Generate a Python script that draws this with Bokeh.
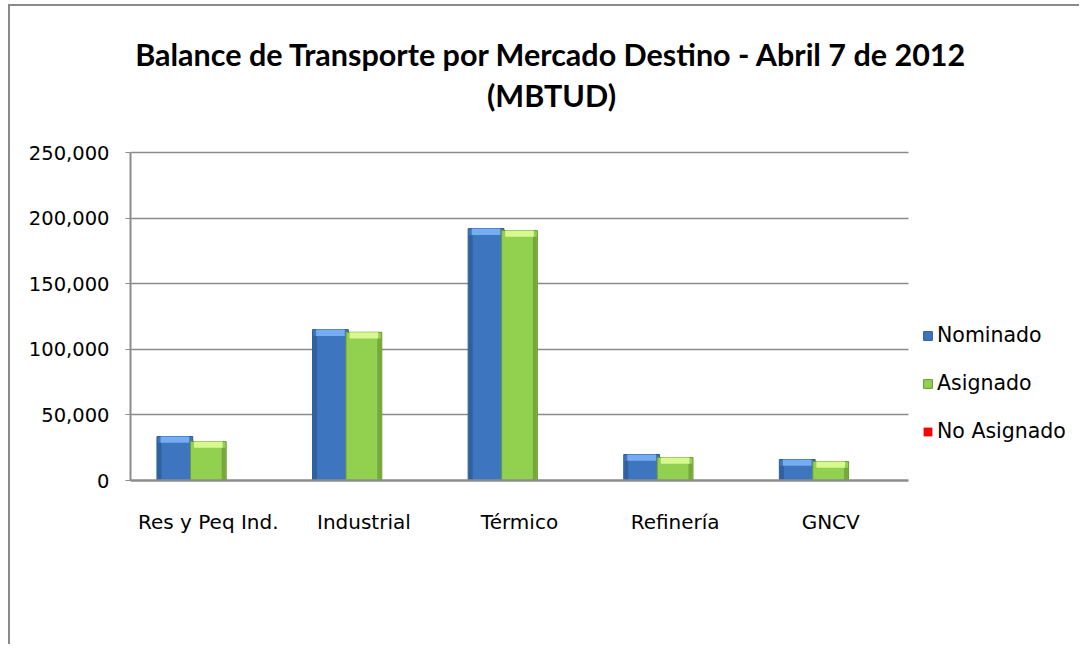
from bokeh.plotting import figure
from bokeh.models import (Range1d, NumeralTickFormatter, FixedTicker,
                          Legend, LegendItem, Label, ColumnDataSource)
from bokeh.transform import dodge
from bokeh.embed import file_html
from bokeh.resources import INLINE

categories = ["Res y Peq Ind.", "Industrial", "Térmico", "Refinería", "GNCV"]
nominado = [33500, 115000, 192000, 19800, 16000]
asignado = [29700, 113000, 190500, 17500, 14500]
no_asignado = [0, 0, 0, 0, 0]
y_ticks = [0, 50000, 100000, 150000, 200000, 250000]

series_names = ["Nominado", "Asignado", "No Asignado"]
title_line1 = "Balance de Transporte por Mercado Destino - Abril 7 de 2012"
title_line2 = "(MBTUD)"
main_colors = ["#3d76be", "#92d050", "#ff0000"]
edge_colors = ["#2d5a93", "#6c9a33", "#c00000"]
top_colors = ["#74adf2", "#d8f890", "#ff8080"]
side_colors = ["#30609e", "#77a83c", "#c00000"]

n = len(categories)
hl = 4800  # height of the bevel highlight band in data units

src = ColumnDataSource(dict(
    x=[i + 0.5 for i in range(n)],
    nom=nominado, asg=asignado, noa=no_asignado,
    nom_b=[max(v - hl, 0) for v in nominado],
    asg_b=[max(v - hl, 0) for v in asignado],
))

# canvas / frame geometry (pixels)
W, H = 1071, 640
left_b, bottom_b = 120, 166
plot_w, plot_h = 778, 328          # area that holds the categories / 0..250,000
frame_w, frame_h = W - left_b, H - bottom_b
x_end = n * frame_w / plot_w
y_end = y_ticks[-1] * frame_h / plot_h

p = figure(x_range=Range1d(0, x_end), y_range=Range1d(0, y_end),
           width=W, height=H, output_backend="svg", toolbar_location=None,
           min_border_left=left_b, min_border_right=0,
           min_border_top=0, min_border_bottom=bottom_b)
p.styles = {"border-left": "2px solid #8a8a8a", "border-top": "2px solid #8a8a8a",
            "margin-left": "8px", "margin-top": "4px"}
p.outline_line_color = None
p.background_fill_color = "white"
p.border_fill_color = "white"

off = 0.215
bw = 0.23
sw = 0.025  # width of the shaded side strip
r_nom = p.vbar(x=dodge("x", -off), top="nom", width=bw, source=src,
               fill_color=main_colors[0], line_color=edge_colors[0], line_width=1)
p.vbar(x=dodge("x", -off - bw / 2 + sw / 2 + 0.004), top="nom_b", width=sw,
       source=src, fill_color=side_colors[0], line_color=None)
p.vbar(x=dodge("x", -off), top="nom", bottom="nom_b", width=bw * 0.8,
       source=src, fill_color=top_colors[0], line_color=None)
r_asg = p.vbar(x=dodge("x", 0), top="asg", width=bw, source=src,
               fill_color=main_colors[1], line_color=edge_colors[1], line_width=1)
p.vbar(x=dodge("x", bw / 2 - sw / 2 - 0.004), top="asg_b", width=sw,
       source=src, fill_color=side_colors[1], line_color=None)
p.vbar(x=dodge("x", 0), top="asg", bottom="asg_b", width=bw * 0.8,
       source=src, fill_color=top_colors[1], line_color=None)
r_noa = p.vbar(x=dodge("x", off), top="noa", width=bw, source=src,
               fill_color=main_colors[2], line_color=None)

# grid
p.xgrid.grid_line_color = None
p.ygrid.grid_line_color = "#8c8c8c"
p.ygrid.grid_line_width = 1.5
p.ygrid.cross_bounds = (0, n)
p.yaxis.ticker = FixedTicker(ticks=y_ticks)
p.ygrid.ticker = FixedTicker(ticks=y_ticks)

# y axis
p.yaxis.bounds = (0, y_ticks[-1])
p.yaxis.formatter = NumeralTickFormatter(format="0,0")
p.yaxis.axis_line_color = "#8c8c8c"
p.yaxis.axis_line_width = 2
p.yaxis.major_tick_line_color = "#8c8c8c"
p.yaxis.major_tick_out = 5
p.yaxis.major_tick_in = 0
p.yaxis.minor_tick_line_color = None
p.yaxis.major_label_standoff = 16
p.yaxis.major_label_text_font = "DejaVu Sans"
p.yaxis.major_label_text_font_size = "19.5px"
p.yaxis.major_label_text_color = "#000000"

# x axis (categories)
p.xaxis.bounds = (0, n)
p.xaxis.ticker = FixedTicker(ticks=[i + 0.5 for i in range(n)])
p.xaxis.major_label_overrides = {i + 0.5: c for i, c in enumerate(categories)}
p.xaxis.axis_line_color = "#8c8c8c"
p.xaxis.axis_line_width = 2.5
p.xaxis.major_tick_line_color = None
p.xaxis.minor_tick_line_color = None
p.xaxis.major_tick_out = 0
p.xaxis.major_label_standoff = 29
p.xaxis.major_label_text_font = "DejaVu Sans"
p.xaxis.major_label_text_font_size = "20px"
p.xaxis.major_label_text_color = "#000000"

# titles (screen units relative to the frame's bottom-left)
for txt, yy in ((title_line1, 427), (title_line2, 386)):
    p.add_layout(Label(x=421, y=yy, x_units="screen", y_units="screen", text=txt,
                       text_align="center", text_baseline="middle",
                       text_font="Lato", text_font_size="30.5px",
                       text_font_style="bold", text_color="#000000"))

legend = Legend(items=[LegendItem(label=series_names[0], renderers=[r_nom]),
                       LegendItem(label=series_names[1], renderers=[r_asg]),
                       LegendItem(label=series_names[2], renderers=[r_noa])],
                location=(792, 37), orientation="vertical")
legend.padding = 0
legend.margin = 0
legend.border_line_color = None
legend.background_fill_alpha = 0
legend.glyph_width = 11
legend.glyph_height = 11
legend.label_standoff = 4
legend.label_text_font = "DejaVu Sans"
legend.label_text_font_size = "20.5px"
legend.label_text_color = "#000000"
legend.label_height = 22
legend.spacing = 24
p.add_layout(legend)

open("out.html", "w").write(file_html(p, INLINE))
